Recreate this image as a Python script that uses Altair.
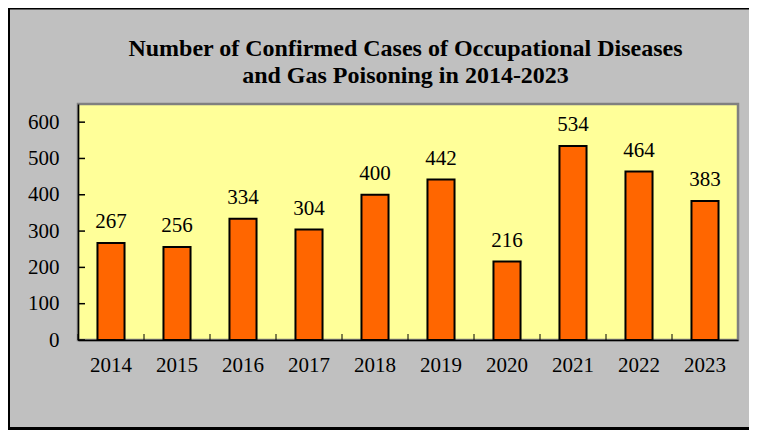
import altair as alt
import pandas as pd

years = ["2014", "2015", "2016", "2017", "2018", "2019", "2020", "2021", "2022", "2023"]
cases = [267, 256, 334, 304, 400, 442, 216, 534, 464, 383]
ytick_values = [0, 100, 200, 300, 400, 500, 600]
title_lines = ["Number of Confirmed Cases of Occupational Diseases",
               "and Gas Poisoning in 2014-2023"]

FONT = "Liberation Serif, Times New Roman, serif"
W, H = 660, 236

df = pd.DataFrame({"year": years, "cases": cases})
ticks_df = pd.DataFrame({"v": ytick_values})
one = pd.DataFrame({"a": [0]})

xscale = alt.Scale(domain=years, paddingInner=0, paddingOuter=0)
yscale = alt.Scale(domain=[0, 650], nice=False)

xaxis = alt.Axis(title=None, labelAngle=0, ticks=False, labelPadding=14,
                 labelFont=FONT, labelFontSize=21, labelColor="black",
                 labelOverlap=False, domainColor="black", domainWidth=1.5)
yaxis = alt.Axis(title=None, values=ytick_values, ticks=False, labelPadding=19,
                 grid=False, labelFont=FONT, labelFontSize=21, labelColor="black",
                 labelOverlap=False, labelFlush=False,
                 domainColor="black", domainWidth=1.5)

base = alt.Chart(df)

bars = base.mark_bar(
    color="#FF6600", stroke="black", strokeWidth=2,
    width=alt.RelativeBandSize(0.41)
).encode(
    x=alt.X("year:N", scale=xscale, sort=years, axis=xaxis),
    y=alt.Y("cases:Q", scale=yscale, axis=yaxis),
)

labels = base.mark_text(
    baseline="alphabetic", dy=-15, font=FONT, fontSize=21, color="black"
).encode(
    x=alt.X("year:N", scale=xscale, sort=years, axis=xaxis),
    y=alt.Y("cases:Q", scale=yscale, axis=yaxis),
    text="cases:Q",
)

ytk = alt.Chart(ticks_df).mark_rule(color="black", strokeWidth=1.5).encode(
    y=alt.Y("v:Q", scale=yscale, axis=yaxis),
    x=alt.value(0), x2=alt.value(7),
)

xtk = base.mark_rule(color="black", strokeWidth=1).encode(
    x=alt.X("year:N", scale=xscale, sort=years, bandPosition=0, axis=xaxis),
    y=alt.value(H - 6), y2=alt.value(H),
)

title1 = alt.Chart(one).mark_text(
    font=FONT, fontSize=24, fontWeight="bold", color="black",
    align="center", baseline="alphabetic"
).encode(x=alt.value(327.5), y=alt.value(-48), text=alt.value(title_lines[0]))
title2 = alt.Chart(one).mark_text(
    font=FONT, fontSize=24, fontWeight="bold", color="black",
    align="center", baseline="alphabetic"
).encode(x=alt.value(327.5), y=alt.value(-21), text=alt.value(title_lines[1]))

frame_left = alt.Chart(one).mark_rule(color="black", strokeWidth=4).encode(
    x=alt.value(-70), y=alt.value(-96), y2=alt.value(330))
frame_top = alt.Chart(one).mark_rule(color="black", strokeWidth=3).encode(
    y=alt.value(-96), x=alt.value(-70), x2=alt.value(700))
frame_bottom = alt.Chart(one).mark_rule(color="black", strokeWidth=3).encode(
    y=alt.value(324.5), x=alt.value(-70), x2=alt.value(700))

chart = alt.layer(
    bars, labels, ytk, xtk, title1, title2, frame_left, frame_top, frame_bottom
).properties(
    width=W, height=H,
    background="#C0C0C0",
    padding={"left": 70, "top": 96, "right": 11, "bottom": 90},
    autosize=alt.AutoSizeParams(type="none"),
).configure_view(
    fill="#FFFF99", stroke="#808080", strokeWidth=2.5
)

chart.save("out.html", embed_options={"renderer": "svg", "actions": False})
